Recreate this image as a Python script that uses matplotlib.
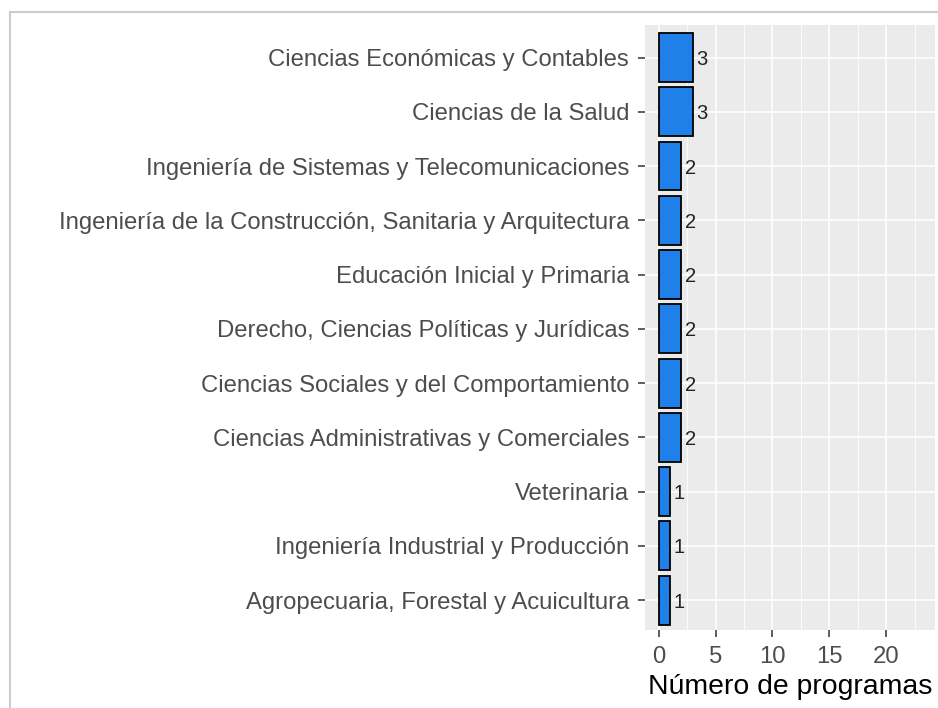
import matplotlib
matplotlib.use("Agg")
import matplotlib.pyplot as plt
from matplotlib.patches import Rectangle

categories = [
    "Agropecuaria, Forestal y Acuicultura",
    "Ingeniería Industrial y Producción",
    "Veterinaria",
    "Ciencias Administrativas y Comerciales",
    "Ciencias Sociales y del Comportamiento",
    "Derecho, Ciencias Políticas y Jurídicas",
    "Educación Inicial y Primaria",
    "Ingeniería de la Construcción, Sanitaria y Arquitectura",
    "Ingeniería de Sistemas y Telecomunicaciones",
    "Ciencias de la Salud",
    "Ciencias Económicas y Contables",
]
values = [1, 1, 1, 2, 2, 2, 2, 2, 2, 3, 3]
xticks = [0, 5, 10, 15, 20]

plt.rcParams['font.family'] = ['Liberation Sans', 'DejaVu Sans']

W, H = 938, 708
fig = plt.figure(figsize=(W / 100, H / 100), dpi=100)
fig.patch.set_facecolor('white')
fig.add_artist(Rectangle((10 / W, -0.1), 1.2, 1 - 12 / H + 0.1, transform=fig.transFigure,
                         fill=False, edgecolor='#cccccc', linewidth=1.5))

ax = fig.add_axes([645 / W, 1 - 630 / H, (935 - 645) / W, (630 - 25) / H])
ax.set_facecolor('#ebebeb')
for s in ax.spines.values():
    s.set_visible(False)

ypos = list(range(len(categories)))
ax.barh(ypos, values, height=0.9, color='#1f80ea', edgecolor='black', linewidth=1.3, zorder=3)
for y, v in zip(ypos, values):
    ax.text(v + 0.3, y, str(v), va='center_baseline', ha='left', fontsize=14.5,
            color='#222222', zorder=4)

ax.set_xlim(-1.2, 24.3)
ax.set_ylim(-0.55, 10.6)
ax.set_xticks(xticks)
ax.set_xticks([2.5, 7.5, 12.5, 17.5, 22.5], minor=True)
ax.set_yticks(ypos)
ax.set_yticklabels(categories)
ax.grid(True, which='major', color='white', linewidth=1.2, zorder=0)
ax.grid(True, which='minor', axis='x', color='white', linewidth=0.6, zorder=0)
ax.set_axisbelow(True)
ax.tick_params(axis='both', which='major', colors='#333333', labelcolor='#4d4d4d',
               labelsize=17.2, length=5, width=1.1)
ax.tick_params(axis='y', which='major', pad=6.5)
ax.tick_params(axis='x', which='major', pad=6.8)
ax.tick_params(axis='x', which='minor', length=0)
ax.set_xlabel('Número de programas', fontsize=20.4, color='black', labelpad=4)

fig.savefig('out.png', dpi=100)
